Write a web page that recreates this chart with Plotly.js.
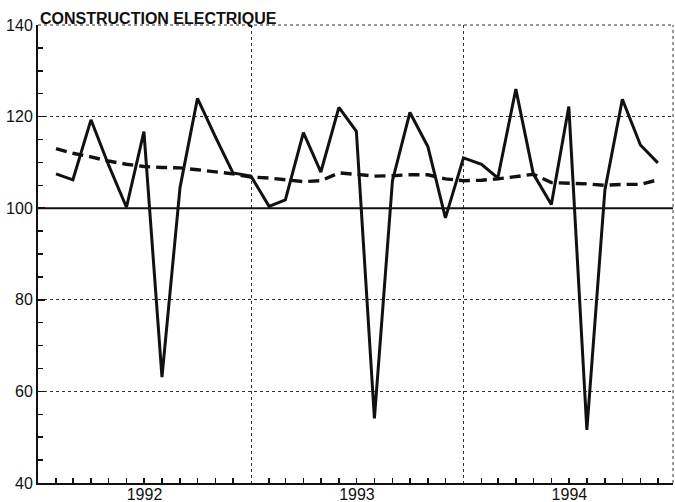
<!DOCTYPE html>
<html><head><meta charset="utf-8">
<script src="https://cdn.plot.ly/plotly-3.0.1.min.js"></script>
<style>html,body{margin:0;padding:0;background:#fff}</style>
</head><body><div id="chart" style="width:675px;height:502px"></div>
<script>
const months = ['1992-02-01','1992-03-01','1992-04-01','1992-05-01','1992-06-01','1992-07-01','1992-08-01','1992-09-01','1992-10-01','1992-11-01','1992-12-01',
  '1993-01-01','1993-02-01','1993-03-01','1993-04-01','1993-05-01','1993-06-01','1993-07-01','1993-08-01','1993-09-01','1993-10-01','1993-11-01','1993-12-01',
  '1994-01-01','1994-02-01','1994-03-01','1994-04-01','1994-05-01','1994-06-01','1994-07-01','1994-08-01','1994-09-01','1994-10-01','1994-11-01','1994-12-01'];
const indexValues = [107.5,106.2,119.3,109.5,100.2,116.7,63.1,104.5,124.0,115.5,107.7,
  107.0,100.4,101.8,116.5,107.9,122.0,116.8,54.1,106.0,120.9,113.4,97.9,
  111.0,109.6,106.6,126.0,107.5,100.8,122.2,51.6,104.0,123.8,113.8,109.9];
const trendValues = [113.0,112.0,111.2,110.3,109.6,109.1,108.9,108.8,108.4,108.0,107.5,
  106.8,106.6,106.2,105.8,106.0,107.7,107.4,107.0,107.1,107.3,107.3,106.4,
  106.0,106.1,106.4,107.0,107.4,105.6,105.5,105.3,105.0,105.2,105.2,106.2];
const yearLabels = ['1992','1993','1994'];
const yearCenters = ['1992-07-02','1993-07-02','1994-07-02'];
const chartTitle = 'CONSTRUCTION ELECTRIQUE';

const font = 'Liberation Sans, Arial, Helvetica, sans-serif';
const traces = [
  {x: months, y: trendValues, type: 'scatter', mode: 'lines',
   line: {color: '#111', width: 3.4, dash: '11px,6px'}, hoverinfo: 'skip'},
  {x: months, y: indexValues, type: 'scatter', mode: 'lines',
   line: {color: '#111', width: 3}, hoverinfo: 'skip'},
  {x: yearCenters, y: [null, null, null], xaxis: 'x2', type: 'scatter', mode: 'lines', hoverinfo: 'skip'}
];
const xr = ['1992-01-01', '1994-12-27'];
const layout = {
  width: 675, height: 502,
  margin: {l: 38, r: 2, t: 25, b: 19},
  paper_bgcolor: '#fff', plot_bgcolor: '#fff',
  showlegend: false,
  font: {family: font, color: '#111', size: 16},
  title: {text: chartTitle, xref: 'container', yref: 'container', x: 40/675, xanchor: 'left',
          y: 1 - 24/502, yanchor: 'bottom', pad: {t: 0, b: 0, l: 0, r: 0},
          font: {size: 16, family: font, color: '#111', weight: 'bold'}},
  xaxis: {
    type: 'date', range: xr, tick0: '1992-01-01', dtick: 'M12',
    showgrid: true, griddash: 'dot', gridcolor: '#333', gridwidth: 1,
    showticklabels: false, ticks: '',
    minor: {dtick: 'M1', tick0: '1992-01-01', ticks: 'inside', ticklen: 5, tickcolor: '#111', tickwidth: 1.5, showgrid: false},
    showline: true, linecolor: '#111', linewidth: 2, zeroline: false
  },
  xaxis2: {
    type: 'date', range: xr, overlaying: 'x', side: 'bottom', anchor: 'y',
    tickmode: 'array', tickvals: yearCenters, ticktext: yearLabels,
    ticks: '', showgrid: false, showline: false, zeroline: false,
    tickfont: {size: 16, family: font, color: '#111'}
  },
  yaxis: {
    range: [40, 140], tick0: 40, dtick: 20,
    showgrid: true, griddash: 'dot', gridcolor: '#333', gridwidth: 1,
    ticks: 'inside', ticklen: 7, tickwidth: 1.5, tickcolor: '#111',
    minor: {dtick: 5, ticks: 'inside', ticklen: 5, tickcolor: '#111', tickwidth: 1.5, showgrid: false},
    showline: true, linecolor: '#111', linewidth: 2, zeroline: false,
    tickfont: {size: 16, family: font, color: '#111'}
  },
  shapes: [
    {type: 'line', xref: 'paper', x0: 0, x1: 1, yref: 'y', y0: 100, y1: 100, line: {color: '#111', width: 2}},
    {type: 'line', xref: 'paper', x0: 0, x1: 1, yref: 'paper', y0: 1, y1: 1, line: {color: '#333', width: 1, dash: 'dot'}},
    {type: 'line', xref: 'paper', x0: 1, x1: 1, yref: 'paper', y0: 0, y1: 1, line: {color: '#333', width: 1, dash: 'dot'}}
  ]
};
Plotly.newPlot('chart', traces, layout, {displayModeBar: false, staticPlot: true});
</script></body></html>
